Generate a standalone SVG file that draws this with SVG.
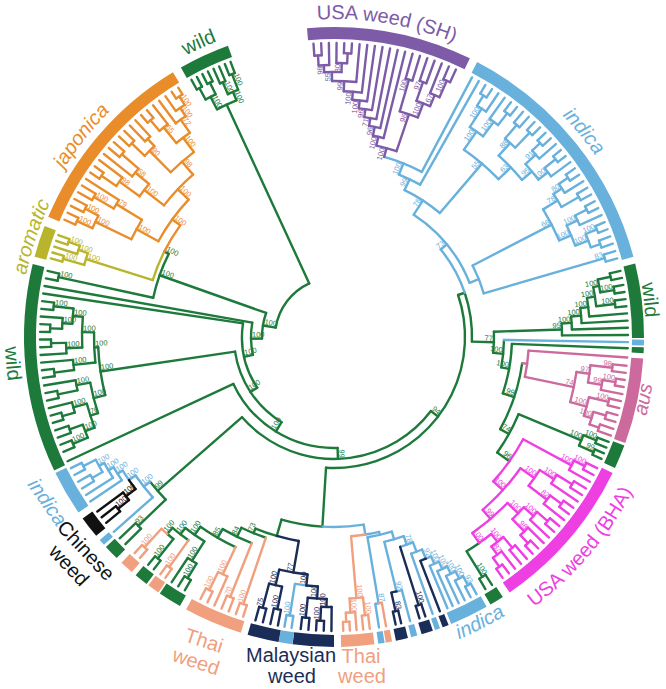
<svg xmlns="http://www.w3.org/2000/svg" width="666" height="689" viewBox="0 0 666 689">
<style>
#connectors path,#connectors circle{fill:none;stroke-width:2.4;stroke-linecap:round}
.g{stroke:#1d7a3b}.o{stroke:#e98d2b}.y{stroke:#b8b52c}.p{stroke:#7d5ba6}.b{stroke:#68b1dd}.a{stroke:#cc6a9d}.m{stroke:#ee3fe2}.n{stroke:#1a2d58}.s{stroke:#f0a07e}.k{stroke:#111111}
.bar{fill:none;stroke-width:12}
text{font-family:"Liberation Sans",Arial,sans-serif}
.bs text{font-size:7.5px}
.ae{text-anchor:end}
.fg{fill:#1d7a3b}.fo{fill:#e98d2b}.fy{fill:#b8b52c}.fp{fill:#7d5ba6}.fb{fill:#68b1dd}.fa{fill:#cc6a9d}.fm{fill:#ee3fe2}.fn{fill:#1a2d58}.fs{fill:#f0a07e}.fk{fill:#111111}
.lab{font-size:20px}
.it{font-style:italic}
</style>
<defs>
<path id="cw318" d="M0 318A318 318 0 1 1 0-318A318 318 0 1 1 0 318"/>
<path id="cw314" d="M0 314A314 314 0 1 1 0-314A314 314 0 1 1 0 314"/>
<path id="cw312" d="M0 312A312 312 0 1 1 0-312A312 312 0 1 1 0 312"/>
<path id="ccw336" d="M0-336A336 336 0 1 0 0 336A336 336 0 1 0 0-336"/>
<path id="ccw327" d="M0-327A327 327 0 1 0 0 327A327 327 0 1 0 0-327"/>
<path id="ccw322" d="M0-322A322 322 0 1 0 0 322A322 322 0 1 0 0-322"/>
<path id="ccw329" d="M0-329A329 329 0 1 0 0 329A329 329 0 1 0 0-329"/>
</defs>
<g transform="translate(334,337)">
<g id="connectors">
<g class="g">
<path d="M0-59V-256" transform="rotate(335.2)"/>
<circle r="59" pathLength="360" stroke-dasharray="56.05 400" transform="rotate(189.15)"/>
<path d="M0-59V-72" transform="rotate(279.15)"/>
<circle r="72" pathLength="360" stroke-dasharray="20.7 400" transform="rotate(178.8)"/>
<path d="M0-72V-185" transform="rotate(289.5)"/>
<path d="M0-72V-83" transform="rotate(268.8)"/>
<circle r="83" pathLength="360" stroke-dasharray="22.45 400" transform="rotate(167.55)"/>
<path d="M0-83V-294" transform="rotate(280)"/>
<path d="M0-83V-92" transform="rotate(257.55)"/>
<circle r="92" pathLength="360" stroke-dasharray="41.9 400" transform="rotate(146.6)"/>
<path d="M0-92V-294" transform="rotate(278.5)"/>
<path d="M0-92V-100" transform="rotate(236.6)"/>
<circle r="100" pathLength="360" stroke-dasharray="50 400" transform="rotate(121.6)"/>
<path d="M0-100V-236" transform="rotate(261.6)"/>
<path d="M0-100V-111" transform="rotate(211.6)"/>
<circle r="111" pathLength="360" stroke-dasharray="66.85 400" transform="rotate(88.15)"/>
<path d="M0-111V-294" transform="rotate(245)"/>
<path d="M0-111V-122" transform="rotate(178.15)"/>
<circle r="122" pathLength="360" stroke-dasharray="101.5 400" transform="rotate(37.4)"/>
<path d="M0-122V-234" transform="rotate(228.9)"/>
<path d="M0-122V-131" transform="rotate(127.4)"/>
<circle r="131" pathLength="360" stroke-dasharray="112.2 400" transform="rotate(-18.7)"/>
<path d="M0-131V-190" transform="rotate(183.5)"/>
<path d="M0-131V-138" transform="rotate(71.3)"/>
<circle r="256" pathLength="360" stroke-dasharray="4.8 400" transform="rotate(242.8)"/>
<path d="M0-256V-270" transform="rotate(332.8)"/>
<path d="M0-256V-265" transform="rotate(337.6)"/>
<circle r="270" pathLength="360" stroke-dasharray="2.4 400" transform="rotate(241.6)"/>
<path d="M0-270V-283" transform="rotate(331.6)"/>
<circle r="283" pathLength="360" stroke-dasharray="1.2 400" transform="rotate(241)"/>
<path d="M0-283V-294" transform="rotate(331)"/>
<path d="M0-283V-294" transform="rotate(332.2)"/>
<path d="M0-270V-283" transform="rotate(334)"/>
<circle r="283" pathLength="360" stroke-dasharray="1.2 400" transform="rotate(243.4)"/>
<path d="M0-283V-294" transform="rotate(333.4)"/>
<path d="M0-283V-294" transform="rotate(334.6)"/>
<circle r="265" pathLength="360" stroke-dasharray="2.4 400" transform="rotate(246.4)"/>
<path d="M0-265V-278" transform="rotate(336.4)"/>
<circle r="278" pathLength="360" stroke-dasharray="1.2 400" transform="rotate(245.8)"/>
<path d="M0-278V-294" transform="rotate(335.8)"/>
<path d="M0-278V-294" transform="rotate(337)"/>
<path d="M0-265V-282" transform="rotate(338.8)"/>
<circle r="282" pathLength="360" stroke-dasharray="1.2 400" transform="rotate(248.2)"/>
<path d="M0-282V-294" transform="rotate(338.2)"/>
<path d="M0-282V-294" transform="rotate(339.4)"/>
<circle r="185" pathLength="360" stroke-dasharray="14.45 400" transform="rotate(192.25)"/>
<path d="M0-185V-282" transform="rotate(282.25)"/>
<circle r="282" pathLength="360" stroke-dasharray="1.5 400" transform="rotate(191.5)"/>
<path d="M0-282V-294" transform="rotate(281.5)"/>
<path d="M0-282V-294" transform="rotate(283)"/>
<path d="M0-185V-190" transform="rotate(296.7)"/>
<circle r="236" pathLength="360" stroke-dasharray="11.75 400" transform="rotate(165.75)"/>
<path d="M0-236V-240" transform="rotate(267.5)"/>
<circle r="240" pathLength="360" stroke-dasharray="7.2 400" transform="rotate(173.9)"/>
<path d="M0-240V-262" transform="rotate(263.9)"/>
<circle r="262" pathLength="360" stroke-dasharray="2.25 400" transform="rotate(172.75)"/>
<path d="M0-262V-282" transform="rotate(262.75)"/>
<circle r="282" pathLength="360" stroke-dasharray="1.5 400" transform="rotate(172)"/>
<path d="M0-282V-294" transform="rotate(262)"/>
<path d="M0-282V-294" transform="rotate(263.5)"/>
<path d="M0-262V-294" transform="rotate(265)"/>
<path d="M0-240V-252" transform="rotate(271.1)"/>
<circle r="252" pathLength="360" stroke-dasharray="7 400" transform="rotate(177.6)"/>
<path d="M0-252V-268" transform="rotate(267.6)"/>
<circle r="268" pathLength="360" stroke-dasharray="2.25 400" transform="rotate(176.5)"/>
<path d="M0-268V-294" transform="rotate(266.5)"/>
<path d="M0-268V-283" transform="rotate(268.75)"/>
<circle r="283" pathLength="360" stroke-dasharray="1.5 400" transform="rotate(178)"/>
<path d="M0-283V-294" transform="rotate(268)"/>
<path d="M0-283V-294" transform="rotate(269.5)"/>
<path d="M0-252V-262" transform="rotate(274.6)"/>
<circle r="262" pathLength="360" stroke-dasharray="3.35 400" transform="rotate(182.9)"/>
<path d="M0-262V-272" transform="rotate(272.9)"/>
<circle r="272" pathLength="360" stroke-dasharray="2.25 400" transform="rotate(181.75)"/>
<path d="M0-272V-284" transform="rotate(271.75)"/>
<circle r="284" pathLength="360" stroke-dasharray="1.5 400" transform="rotate(181)"/>
<path d="M0-284V-294" transform="rotate(271)"/>
<path d="M0-284V-294" transform="rotate(272.5)"/>
<path d="M0-272V-294" transform="rotate(274)"/>
<path d="M0-262V-282" transform="rotate(276.25)"/>
<circle r="282" pathLength="360" stroke-dasharray="1.5 400" transform="rotate(185.5)"/>
<path d="M0-282V-294" transform="rotate(275.5)"/>
<path d="M0-282V-294" transform="rotate(277)"/>
<path d="M0-236V-248" transform="rotate(255.75)"/>
<circle r="248" pathLength="360" stroke-dasharray="7.3 400" transform="rotate(162.1)"/>
<path d="M0-248V-262" transform="rotate(259.4)"/>
<circle r="262" pathLength="360" stroke-dasharray="2.25 400" transform="rotate(168.25)"/>
<path d="M0-262V-282" transform="rotate(258.25)"/>
<circle r="282" pathLength="360" stroke-dasharray="1.5 400" transform="rotate(167.5)"/>
<path d="M0-282V-294" transform="rotate(257.5)"/>
<path d="M0-282V-294" transform="rotate(259)"/>
<path d="M0-262V-294" transform="rotate(260.5)"/>
<path d="M0-248V-256" transform="rotate(252.1)"/>
<circle r="256" pathLength="360" stroke-dasharray="5.65 400" transform="rotate(159.25)"/>
<path d="M0-256V-270" transform="rotate(254.9)"/>
<circle r="270" pathLength="360" stroke-dasharray="2.25 400" transform="rotate(163.75)"/>
<path d="M0-270V-283" transform="rotate(253.75)"/>
<circle r="283" pathLength="360" stroke-dasharray="1.5 400" transform="rotate(163)"/>
<path d="M0-283V-294" transform="rotate(253)"/>
<path d="M0-283V-294" transform="rotate(254.5)"/>
<path d="M0-270V-294" transform="rotate(256)"/>
<path d="M0-256V-266" transform="rotate(249.25)"/>
<circle r="266" pathLength="360" stroke-dasharray="3 400" transform="rotate(157.75)"/>
<path d="M0-266V-282" transform="rotate(247.75)"/>
<circle r="282" pathLength="360" stroke-dasharray="1.5 400" transform="rotate(157)"/>
<path d="M0-282V-294" transform="rotate(247)"/>
<path d="M0-282V-294" transform="rotate(248.5)"/>
<path d="M0-266V-280" transform="rotate(250.75)"/>
<circle r="280" pathLength="360" stroke-dasharray="1.5 400" transform="rotate(160)"/>
<path d="M0-280V-294" transform="rotate(250)"/>
<path d="M0-280V-294" transform="rotate(251.5)"/>
<circle r="234" pathLength="360" stroke-dasharray="5.8 400" transform="rotate(136)"/>
<path d="M0-234V-272" transform="rotate(226)"/>
<circle r="272" pathLength="360" stroke-dasharray="1.6 400" transform="rotate(135.2)"/>
<path d="M0-272V-294" transform="rotate(225.2)"/>
<path d="M0-272V-294" transform="rotate(226.8)"/>
<circle r="190" pathLength="360" stroke-dasharray="12.55 400" transform="rotate(93.5)"/>
<path d="M0-190V-207" transform="rotate(196.05)"/>
<circle r="207" pathLength="360" stroke-dasharray="6.25 400" transform="rotate(106.05)"/>
<path d="M0-207V-212" transform="rotate(202.3)"/>
<circle r="212" pathLength="360" stroke-dasharray="7.15 400" transform="rotate(108.75)"/>
<path d="M0-212V-222" transform="rotate(205.9)"/>
<circle r="222" pathLength="360" stroke-dasharray="8.35 400" transform="rotate(111.75)"/>
<path d="M0-222V-232" transform="rotate(210.1)"/>
<circle r="232" pathLength="360" stroke-dasharray="10.05 400" transform="rotate(115.1)"/>
<path d="M0-232V-242" transform="rotate(215.15)"/>
<circle r="242" pathLength="360" stroke-dasharray="5.5 400" transform="rotate(122.4)"/>
<path d="M0-242V-265" transform="rotate(212.4)"/>
<circle r="265" pathLength="360" stroke-dasharray="2.25 400" transform="rotate(121.25)"/>
<path d="M0-265V-294" transform="rotate(213.5)"/>
<path d="M0-265V-282" transform="rotate(211.25)"/>
<circle r="282" pathLength="360" stroke-dasharray="1.5 400" transform="rotate(120.5)"/>
<path d="M0-282V-294" transform="rotate(210.5)"/>
<path d="M0-282V-294" transform="rotate(212)"/>
<path d="M0-242V-250" transform="rotate(217.9)"/>
<circle r="250" pathLength="360" stroke-dasharray="4.65 400" transform="rotate(125.6)"/>
<path d="M0-250V-258" transform="rotate(220.25)"/>
<circle r="258" pathLength="360" stroke-dasharray="1.75 400" transform="rotate(128.5)"/>
<path d="M0-258V-283" transform="rotate(218.5)"/>
<circle r="283" pathLength="360" stroke-dasharray="1.4 400" transform="rotate(127.8)"/>
<path d="M0-283V-294" transform="rotate(217.8)"/>
<path d="M0-283V-294" transform="rotate(219.2)"/>
<circle r="138" pathLength="360" stroke-dasharray="20.6 400" transform="rotate(-18.7)"/>
<path d="M0-138V-160" transform="rotate(91.9)"/>
<circle r="160" pathLength="360" stroke-dasharray="7.6 400" transform="rotate(-1.9)"/>
<path d="M0-160V-228" transform="rotate(88.1)"/>
<path d="M0-160V-170" transform="rotate(95.7)"/>
<circle r="228" pathLength="360" stroke-dasharray="3 400" transform="rotate(-3.4)"/>
<path d="M0-228V-294" transform="rotate(89.6)"/>
<path d="M0-228V-238" transform="rotate(86.6)"/>
<circle r="238" pathLength="360" stroke-dasharray="3.15 400" transform="rotate(-4.95)"/>
<path d="M0-238V-294" transform="rotate(88.2)"/>
<path d="M0-238V-248" transform="rotate(85.05)"/>
<circle r="248" pathLength="360" stroke-dasharray="3.5 400" transform="rotate(-6.7)"/>
<path d="M0-248V-294" transform="rotate(86.8)"/>
<path d="M0-248V-256" transform="rotate(83.3)"/>
<circle r="256" pathLength="360" stroke-dasharray="4.2 400" transform="rotate(-8.8)"/>
<path d="M0-256V-294" transform="rotate(85.4)"/>
<path d="M0-256V-264" transform="rotate(81.2)"/>
<circle r="264" pathLength="360" stroke-dasharray="4.2 400" transform="rotate(-10.9)"/>
<path d="M0-264V-283" transform="rotate(83.3)"/>
<circle r="283" pathLength="360" stroke-dasharray="1.4 400" transform="rotate(-7.4)"/>
<path d="M0-283V-294" transform="rotate(82.6)"/>
<path d="M0-283V-294" transform="rotate(84)"/>
<path d="M0-264V-270" transform="rotate(79.1)"/>
<circle r="270" pathLength="360" stroke-dasharray="2.8 400" transform="rotate(-12.3)"/>
<path d="M0-270V-284" transform="rotate(80.5)"/>
<circle r="284" pathLength="360" stroke-dasharray="1.4 400" transform="rotate(-10.2)"/>
<path d="M0-284V-294" transform="rotate(79.8)"/>
<path d="M0-284V-294" transform="rotate(81.2)"/>
<path d="M0-270V-283" transform="rotate(77.7)"/>
<circle r="283" pathLength="360" stroke-dasharray="1.4 400" transform="rotate(-13)"/>
<path d="M0-283V-294" transform="rotate(77)"/>
<path d="M0-283V-294" transform="rotate(78.4)"/>
<circle r="170" pathLength="360" stroke-dasharray="9.3 400" transform="rotate(1)"/>
<path d="M0-170V-178" transform="rotate(100.3)"/>
<circle r="178" pathLength="360" stroke-dasharray="16.25 400" transform="rotate(2.2)"/>
<path d="M0-178V-294" transform="rotate(92.2)"/>
<path d="M0-178V-190" transform="rotate(108.45)"/>
<circle r="190" pathLength="360" stroke-dasharray="21.1 400" transform="rotate(7.9)"/>
<path d="M0-190V-200" transform="rotate(119)"/>
<circle r="200" pathLength="360" stroke-dasharray="12.6 400" transform="rotate(22.7)"/>
<path d="M0-200V-268" transform="rotate(112.7)"/>
<circle r="268" pathLength="360" stroke-dasharray="2.4 400" transform="rotate(21.5)"/>
<path d="M0-268V-282" transform="rotate(111.5)"/>
<circle r="282" pathLength="360" stroke-dasharray="1.2 400" transform="rotate(20.9)"/>
<path d="M0-282V-294" transform="rotate(110.9)"/>
<path d="M0-282V-294" transform="rotate(112.1)"/>
<path d="M0-268V-284" transform="rotate(113.9)"/>
<circle r="284" pathLength="360" stroke-dasharray="1.2 400" transform="rotate(23.3)"/>
<path d="M0-284V-294" transform="rotate(113.3)"/>
<path d="M0-284V-294" transform="rotate(114.5)"/>
<path d="M0-200V-215" transform="rotate(125.3)"/>
<circle r="252" pathLength="360" stroke-dasharray="3.45 400" transform="rotate(54.8)"/>
<path d="M0-252V-282" transform="rotate(148.25)"/>
<circle r="282" pathLength="360" stroke-dasharray="1.5 400" transform="rotate(57.5)"/>
<path d="M0-282V-294" transform="rotate(147.5)"/>
<path d="M0-282V-294" transform="rotate(149)"/>
</g>
<g class="y">
<circle r="190" pathLength="360" stroke-dasharray="9.25 400" transform="rotate(197.45)"/>
<path d="M0-190V-260" transform="rotate(287.45)"/>
<circle r="260" pathLength="360" stroke-dasharray="2.7 400" transform="rotate(196.1)"/>
<path d="M0-260V-282" transform="rotate(286.1)"/>
<circle r="282" pathLength="360" stroke-dasharray="1.2 400" transform="rotate(195.5)"/>
<path d="M0-282V-294" transform="rotate(285.5)"/>
<path d="M0-282V-294" transform="rotate(286.7)"/>
<path d="M0-260V-270" transform="rotate(288.8)"/>
<circle r="270" pathLength="360" stroke-dasharray="1.8 400" transform="rotate(197.9)"/>
<path d="M0-270V-294" transform="rotate(287.9)"/>
<path d="M0-270V-282" transform="rotate(289.7)"/>
<circle r="282" pathLength="360" stroke-dasharray="1.2 400" transform="rotate(199.1)"/>
<path d="M0-282V-294" transform="rotate(289.1)"/>
<path d="M0-282V-294" transform="rotate(290.3)"/>
</g>
<g class="o">
<circle r="190" pathLength="360" stroke-dasharray="9.3 400" transform="rotate(206.7)"/>
<path d="M0-190V-200" transform="rotate(306)"/>
<circle r="200" pathLength="360" stroke-dasharray="14.8 400" transform="rotate(208.6)"/>
<path d="M0-200V-225" transform="rotate(298.6)"/>
<path d="M0-200V-215" transform="rotate(313.4)"/>
<circle r="225" pathLength="360" stroke-dasharray="5.65 400" transform="rotate(205.75)"/>
<path d="M0-225V-265" transform="rotate(295.75)"/>
<circle r="265" pathLength="360" stroke-dasharray="3 400" transform="rotate(204.25)"/>
<path d="M0-265V-282" transform="rotate(294.25)"/>
<circle r="282" pathLength="360" stroke-dasharray="1.5 400" transform="rotate(203.5)"/>
<path d="M0-282V-294" transform="rotate(293.5)"/>
<path d="M0-282V-294" transform="rotate(295)"/>
<path d="M0-265V-280" transform="rotate(297.25)"/>
<circle r="280" pathLength="360" stroke-dasharray="1.5 400" transform="rotate(206.5)"/>
<path d="M0-280V-294" transform="rotate(296.5)"/>
<path d="M0-280V-294" transform="rotate(298)"/>
<path d="M0-225V-255" transform="rotate(301.4)"/>
<circle r="255" pathLength="360" stroke-dasharray="2.25 400" transform="rotate(210.25)"/>
<path d="M0-255V-278" transform="rotate(300.25)"/>
<circle r="278" pathLength="360" stroke-dasharray="1.5 400" transform="rotate(209.5)"/>
<path d="M0-278V-294" transform="rotate(299.5)"/>
<path d="M0-278V-294" transform="rotate(301)"/>
<path d="M0-255V-294" transform="rotate(302.5)"/>
<circle r="215" pathLength="360" stroke-dasharray="11.3 400" transform="rotate(217.75)"/>
<path d="M0-215V-240" transform="rotate(307.75)"/>
<circle r="240" pathLength="360" stroke-dasharray="3.7 400" transform="rotate(215.9)"/>
<path d="M0-240V-265" transform="rotate(305.9)"/>
<circle r="265" pathLength="360" stroke-dasharray="2.25 400" transform="rotate(214.75)"/>
<path d="M0-265V-283" transform="rotate(304.75)"/>
<circle r="283" pathLength="360" stroke-dasharray="1.5 400" transform="rotate(214)"/>
<path d="M0-283V-294" transform="rotate(304)"/>
<path d="M0-283V-294" transform="rotate(305.5)"/>
<path d="M0-265V-294" transform="rotate(307)"/>
<path d="M0-240V-258" transform="rotate(309.6)"/>
<circle r="258" pathLength="360" stroke-dasharray="2.25 400" transform="rotate(218.5)"/>
<path d="M0-258V-294" transform="rotate(308.5)"/>
<path d="M0-258V-280" transform="rotate(310.75)"/>
<circle r="280" pathLength="360" stroke-dasharray="1.5 400" transform="rotate(220)"/>
<path d="M0-280V-294" transform="rotate(310)"/>
<path d="M0-280V-294" transform="rotate(311.5)"/>
<path d="M0-215V-232" transform="rotate(319.05)"/>
<circle r="232" pathLength="360" stroke-dasharray="7.6 400" transform="rotate(225.25)"/>
<path d="M0-232V-262" transform="rotate(315.25)"/>
<circle r="262" pathLength="360" stroke-dasharray="3 400" transform="rotate(223.75)"/>
<path d="M0-262V-280" transform="rotate(313.75)"/>
<circle r="280" pathLength="360" stroke-dasharray="1.5 400" transform="rotate(223)"/>
<path d="M0-280V-294" transform="rotate(313)"/>
<path d="M0-280V-294" transform="rotate(314.5)"/>
<path d="M0-262V-272" transform="rotate(316.75)"/>
<circle r="272" pathLength="360" stroke-dasharray="1.5 400" transform="rotate(226)"/>
<path d="M0-272V-294" transform="rotate(316)"/>
<path d="M0-272V-294" transform="rotate(317.5)"/>
<path d="M0-232V-250" transform="rotate(322.85)"/>
<circle r="250" pathLength="360" stroke-dasharray="3.9 400" transform="rotate(230.9)"/>
<path d="M0-250V-270" transform="rotate(320.9)"/>
<circle r="270" pathLength="360" stroke-dasharray="2.25 400" transform="rotate(229.75)"/>
<path d="M0-270V-284" transform="rotate(319.75)"/>
<circle r="284" pathLength="360" stroke-dasharray="1.5 400" transform="rotate(229)"/>
<path d="M0-284V-294" transform="rotate(319)"/>
<path d="M0-284V-294" transform="rotate(320.5)"/>
<path d="M0-270V-294" transform="rotate(322)"/>
<path d="M0-250V-266" transform="rotate(324.8)"/>
<circle r="266" pathLength="360" stroke-dasharray="2.6 400" transform="rotate(233.5)"/>
<path d="M0-266V-294" transform="rotate(323.5)"/>
<path d="M0-266V-276" transform="rotate(326.1)"/>
<circle r="276" pathLength="360" stroke-dasharray="2.25 400" transform="rotate(235)"/>
<path d="M0-276V-294" transform="rotate(325)"/>
<path d="M0-276V-286" transform="rotate(327.25)"/>
<circle r="286" pathLength="360" stroke-dasharray="1.5 400" transform="rotate(236.5)"/>
<path d="M0-286V-294" transform="rotate(326.5)"/>
<path d="M0-286V-294" transform="rotate(328)"/>
</g>
<g class="b">
<path d="M0-234V-242" transform="rotate(231.8)"/>
<circle r="242" pathLength="360" stroke-dasharray="6.6 400" transform="rotate(138.5)"/>
<path d="M0-242V-294" transform="rotate(228.5)"/>
<path d="M0-242V-250" transform="rotate(235.1)"/>
<circle r="250" pathLength="360" stroke-dasharray="2.6 400" transform="rotate(145.1)"/>
<path d="M0-250V-256" transform="rotate(237.7)"/>
<circle r="256" pathLength="360" stroke-dasharray="3.4 400" transform="rotate(146)"/>
<path d="M0-256V-294" transform="rotate(236)"/>
<path d="M0-256V-262" transform="rotate(239.4)"/>
<circle r="262" pathLength="360" stroke-dasharray="3.75 400" transform="rotate(147.5)"/>
<path d="M0-262V-294" transform="rotate(237.5)"/>
<path d="M0-262V-268" transform="rotate(241.25)"/>
<circle r="268" pathLength="360" stroke-dasharray="3 400" transform="rotate(149.75)"/>
<path d="M0-268V-280" transform="rotate(239.75)"/>
<circle r="280" pathLength="360" stroke-dasharray="1.5 400" transform="rotate(149)"/>
<path d="M0-280V-294" transform="rotate(239)"/>
<path d="M0-280V-294" transform="rotate(240.5)"/>
<path d="M0-268V-282" transform="rotate(242.75)"/>
<circle r="282" pathLength="360" stroke-dasharray="1.5 400" transform="rotate(152)"/>
<path d="M0-282V-294" transform="rotate(242)"/>
<path d="M0-282V-294" transform="rotate(243.5)"/>
<circle r="250" pathLength="360" stroke-dasharray="2.65 400" transform="rotate(96.35)"/>
<path d="M0-250V-282" transform="rotate(189)"/>
<circle r="282" pathLength="360" stroke-dasharray="1.4 400" transform="rotate(98.3)"/>
<path d="M0-282V-294" transform="rotate(188.3)"/>
<path d="M0-282V-294" transform="rotate(189.7)"/>
<circle r="190" pathLength="360" stroke-dasharray="12.5 400" transform="rotate(81)"/>
<path d="M0-190V-200" transform="rotate(171)"/>
<circle r="200" pathLength="360" stroke-dasharray="4.03 400" transform="rotate(76.97)"/>
<path d="M0-200V-203" transform="rotate(166.97)"/>
<circle r="203" pathLength="360" stroke-dasharray="7.05 400" transform="rotate(73.45)"/>
<path d="M0-203V-270" transform="rotate(170.5)"/>
<circle r="270" pathLength="360" stroke-dasharray="0.7 400" transform="rotate(80.5)"/>
<path d="M0-270V-294" transform="rotate(171.2)"/>
<path d="M0-203V-211" transform="rotate(163.45)"/>
<circle r="211" pathLength="360" stroke-dasharray="5.5 400" transform="rotate(70.7)"/>
<path d="M0-211V-262" transform="rotate(166.2)"/>
<circle r="262" pathLength="360" stroke-dasharray="1.2 400" transform="rotate(75)"/>
<path d="M0-262V-294" transform="rotate(165)"/>
<path d="M0-211V-220" transform="rotate(160.7)"/>
<circle r="220" pathLength="360" stroke-dasharray="3.53 400" transform="rotate(68.97)"/>
<path d="M0-220V-230" transform="rotate(158.97)"/>
<circle r="230" pathLength="360" stroke-dasharray="2.9 400" transform="rotate(67.5)"/>
<path d="M0-230V-294" transform="rotate(160.4)"/>
<path d="M0-230V-240" transform="rotate(157.5)"/>
<circle r="240" pathLength="360" stroke-dasharray="1.36 400" transform="rotate(66.14)"/>
<path d="M0-240V-248" transform="rotate(156.14)"/>
<circle r="248" pathLength="360" stroke-dasharray="2.32 400" transform="rotate(64.98)"/>
<path d="M0-248V-294" transform="rotate(157.3)"/>
<path d="M0-248V-256" transform="rotate(154.98)"/>
<circle r="256" pathLength="360" stroke-dasharray="2.45 400" transform="rotate(63.75)"/>
<path d="M0-256V-294" transform="rotate(156.2)"/>
<path d="M0-256V-264" transform="rotate(153.75)"/>
<circle r="264" pathLength="360" stroke-dasharray="2.3 400" transform="rotate(62.6)"/>
<path d="M0-264V-294" transform="rotate(154.9)"/>
<path d="M0-264V-272" transform="rotate(152.6)"/>
<circle r="272" pathLength="360" stroke-dasharray="1.95 400" transform="rotate(61.65)"/>
<path d="M0-272V-294" transform="rotate(153.6)"/>
<path d="M0-272V-282" transform="rotate(151.65)"/>
<circle r="282" pathLength="360" stroke-dasharray="1.3 400" transform="rotate(61)"/>
<path d="M0-282V-294" transform="rotate(151)"/>
<path d="M0-282V-294" transform="rotate(152.3)"/>
<path d="M0-170V-294" transform="rotate(91)"/>
<circle r="138" pathLength="360" stroke-dasharray="20.65 400" transform="rotate(-39.35)"/>
<path d="M0-138V-146" transform="rotate(50.65)"/>
<circle r="146" pathLength="360" stroke-dasharray="35.1 400" transform="rotate(-56.9)"/>
<path d="M0-146V-163" transform="rotate(33.1)"/>
<path d="M0-146V-156" transform="rotate(68.2)"/>
<circle r="156" pathLength="360" stroke-dasharray="11.05 400" transform="rotate(-27.3)"/>
<path d="M0-156V-282" transform="rotate(73.75)"/>
<circle r="282" pathLength="360" stroke-dasharray="1.5 400" transform="rotate(-17)"/>
<path d="M0-282V-294" transform="rotate(73)"/>
<path d="M0-282V-294" transform="rotate(74.5)"/>
<path d="M0-156V-245" transform="rotate(62.7)"/>
<circle r="245" pathLength="360" stroke-dasharray="8.2 400" transform="rotate(-31.4)"/>
<path d="M0-245V-262" transform="rotate(58.6)"/>
<circle r="262" pathLength="360" stroke-dasharray="3.35 400" transform="rotate(-33.1)"/>
<path d="M0-262V-272" transform="rotate(56.9)"/>
<circle r="272" pathLength="360" stroke-dasharray="2.25 400" transform="rotate(-34.25)"/>
<path d="M0-272V-283" transform="rotate(55.75)"/>
<circle r="283" pathLength="360" stroke-dasharray="1.5 400" transform="rotate(-35)"/>
<path d="M0-283V-294" transform="rotate(55)"/>
<path d="M0-283V-294" transform="rotate(56.5)"/>
<path d="M0-272V-294" transform="rotate(58)"/>
<path d="M0-262V-282" transform="rotate(60.25)"/>
<circle r="282" pathLength="360" stroke-dasharray="1.5 400" transform="rotate(-30.5)"/>
<path d="M0-282V-294" transform="rotate(59.5)"/>
<path d="M0-282V-294" transform="rotate(61)"/>
<path d="M0-245V-258" transform="rotate(66.8)"/>
<circle r="258" pathLength="360" stroke-dasharray="4.85 400" transform="rotate(-25.6)"/>
<path d="M0-258V-270" transform="rotate(64.4)"/>
<circle r="270" pathLength="360" stroke-dasharray="2.25 400" transform="rotate(-26.75)"/>
<path d="M0-270V-283" transform="rotate(63.25)"/>
<circle r="283" pathLength="360" stroke-dasharray="1.5 400" transform="rotate(-27.5)"/>
<path d="M0-283V-294" transform="rotate(62.5)"/>
<path d="M0-283V-294" transform="rotate(64)"/>
<path d="M0-270V-294" transform="rotate(65.5)"/>
<path d="M0-258V-272" transform="rotate(69.25)"/>
<circle r="272" pathLength="360" stroke-dasharray="3 400" transform="rotate(-22.25)"/>
<path d="M0-272V-284" transform="rotate(67.75)"/>
<circle r="284" pathLength="360" stroke-dasharray="1.5 400" transform="rotate(-23)"/>
<path d="M0-284V-294" transform="rotate(67)"/>
<path d="M0-284V-294" transform="rotate(68.5)"/>
<path d="M0-272V-282" transform="rotate(70.75)"/>
<circle r="282" pathLength="360" stroke-dasharray="1.5 400" transform="rotate(-20)"/>
<path d="M0-282V-294" transform="rotate(70)"/>
<path d="M0-282V-294" transform="rotate(71.5)"/>
<circle r="163" pathLength="360" stroke-dasharray="14.85 400" transform="rotate(-64.35)"/>
<path d="M0-163V-228" transform="rotate(40.5)"/>
<circle r="228" pathLength="360" stroke-dasharray="11.45 400" transform="rotate(-55.25)"/>
<path d="M0-228V-250" transform="rotate(34.75)"/>
<circle r="250" pathLength="360" stroke-dasharray="3.7 400" transform="rotate(-57.1)"/>
<path d="M0-250V-272" transform="rotate(32.9)"/>
<circle r="272" pathLength="360" stroke-dasharray="2.25 400" transform="rotate(-58.25)"/>
<path d="M0-272V-284" transform="rotate(31.75)"/>
<circle r="284" pathLength="360" stroke-dasharray="1.5 400" transform="rotate(-59)"/>
<path d="M0-284V-294" transform="rotate(31)"/>
<path d="M0-284V-294" transform="rotate(32.5)"/>
<path d="M0-272V-294" transform="rotate(34)"/>
<path d="M0-250V-268" transform="rotate(36.6)"/>
<circle r="268" pathLength="360" stroke-dasharray="2.25 400" transform="rotate(-54.5)"/>
<path d="M0-268V-294" transform="rotate(35.5)"/>
<path d="M0-268V-283" transform="rotate(37.75)"/>
<circle r="283" pathLength="360" stroke-dasharray="1.5 400" transform="rotate(-53)"/>
<path d="M0-283V-294" transform="rotate(37)"/>
<path d="M0-283V-294" transform="rotate(38.5)"/>
<path d="M0-228V-245" transform="rotate(46.2)"/>
<circle r="245" pathLength="360" stroke-dasharray="7.85 400" transform="rotate(-47.75)"/>
<path d="M0-245V-262" transform="rotate(42.25)"/>
<circle r="262" pathLength="360" stroke-dasharray="3 400" transform="rotate(-49.25)"/>
<path d="M0-262V-280" transform="rotate(40.75)"/>
<circle r="280" pathLength="360" stroke-dasharray="1.5 400" transform="rotate(-50)"/>
<path d="M0-280V-294" transform="rotate(40)"/>
<path d="M0-280V-294" transform="rotate(41.5)"/>
<path d="M0-262V-283" transform="rotate(43.75)"/>
<circle r="283" pathLength="360" stroke-dasharray="1.5 400" transform="rotate(-47)"/>
<path d="M0-283V-294" transform="rotate(43)"/>
<path d="M0-283V-294" transform="rotate(44.5)"/>
<path d="M0-245V-258" transform="rotate(50.1)"/>
<circle r="258" pathLength="360" stroke-dasharray="4.5 400" transform="rotate(-42.1)"/>
<path d="M0-258V-272" transform="rotate(47.9)"/>
<circle r="272" pathLength="360" stroke-dasharray="2.25 400" transform="rotate(-43.25)"/>
<path d="M0-272V-283" transform="rotate(46.75)"/>
<circle r="283" pathLength="360" stroke-dasharray="1.5 400" transform="rotate(-44)"/>
<path d="M0-283V-294" transform="rotate(46)"/>
<path d="M0-283V-294" transform="rotate(47.5)"/>
<path d="M0-272V-294" transform="rotate(49)"/>
<path d="M0-258V-270" transform="rotate(52.4)"/>
<circle r="270" pathLength="360" stroke-dasharray="2.25 400" transform="rotate(-38.75)"/>
<path d="M0-270V-284" transform="rotate(51.25)"/>
<circle r="284" pathLength="360" stroke-dasharray="1.5 400" transform="rotate(-39.5)"/>
<path d="M0-284V-294" transform="rotate(50.5)"/>
<path d="M0-284V-294" transform="rotate(52)"/>
<path d="M0-270V-294" transform="rotate(53.5)"/>
<path d="M0-163V-175" transform="rotate(25.65)"/>
<circle r="175" pathLength="360" stroke-dasharray="7.7 400" transform="rotate(-68.2)"/>
<path d="M0-175V-294" transform="rotate(29.5)"/>
<path d="M0-175V-187" transform="rotate(21.8)"/>
<circle r="187" pathLength="360" stroke-dasharray="12.45 400" transform="rotate(-74.45)"/>
<path d="M0-187V-294" transform="rotate(28)"/>
</g>
<g class="k">
<circle r="250" pathLength="360" stroke-dasharray="2.55 400" transform="rotate(142.55)"/>
<path d="M0-250V-262" transform="rotate(232.55)"/>
<circle r="262" pathLength="360" stroke-dasharray="2.1 400" transform="rotate(141.5)"/>
<path d="M0-262V-276" transform="rotate(231.5)"/>
<circle r="276" pathLength="360" stroke-dasharray="1.4 400" transform="rotate(140.8)"/>
<path d="M0-276V-294" transform="rotate(230.8)"/>
<path d="M0-276V-294" transform="rotate(232.2)"/>
<path d="M0-262V-294" transform="rotate(233.6)"/>
</g>
<g class="s">
<path d="M0-212V-282" transform="rotate(198.75)"/>
<circle r="282" pathLength="360" stroke-dasharray="1.5 400" transform="rotate(108)"/>
<path d="M0-282V-294" transform="rotate(198)"/>
<path d="M0-282V-294" transform="rotate(199.5)"/>
<path d="M0-222V-280" transform="rotate(201.75)"/>
<circle r="280" pathLength="360" stroke-dasharray="1.5 400" transform="rotate(111)"/>
<path d="M0-280V-294" transform="rotate(201)"/>
<path d="M0-280V-294" transform="rotate(202.5)"/>
<path d="M0-232V-262" transform="rotate(205.1)"/>
<circle r="262" pathLength="360" stroke-dasharray="2.25 400" transform="rotate(114)"/>
<path d="M0-262V-294" transform="rotate(204)"/>
<path d="M0-262V-282" transform="rotate(206.25)"/>
<circle r="282" pathLength="360" stroke-dasharray="1.5 400" transform="rotate(115.5)"/>
<path d="M0-282V-294" transform="rotate(205.5)"/>
<path d="M0-282V-294" transform="rotate(207)"/>
<path d="M0-250V-283" transform="rotate(215.6)"/>
<circle r="283" pathLength="360" stroke-dasharray="1.2 400" transform="rotate(125)"/>
<path d="M0-283V-294" transform="rotate(215)"/>
<path d="M0-283V-294" transform="rotate(216.2)"/>
<circle r="258" pathLength="360" stroke-dasharray="1.75 400" transform="rotate(130.25)"/>
<path d="M0-258V-283" transform="rotate(222)"/>
<circle r="283" pathLength="360" stroke-dasharray="1.4 400" transform="rotate(131.3)"/>
<path d="M0-283V-294" transform="rotate(221.3)"/>
<path d="M0-283V-294" transform="rotate(222.7)"/>
<circle r="200" pathLength="360" stroke-dasharray="4.1 400" transform="rotate(81)"/>
<path d="M0-200V-262" transform="rotate(175.1)"/>
<circle r="262" pathLength="360" stroke-dasharray="2.95 400" transform="rotate(83.65)"/>
<path d="M0-262V-276" transform="rotate(176.6)"/>
<circle r="276" pathLength="360" stroke-dasharray="1.95 400" transform="rotate(85.6)"/>
<path d="M0-276V-294" transform="rotate(175.6)"/>
<path d="M0-276V-285" transform="rotate(177.55)"/>
<circle r="285" pathLength="360" stroke-dasharray="1.3 400" transform="rotate(86.9)"/>
<path d="M0-285V-294" transform="rotate(176.9)"/>
<path d="M0-285V-294" transform="rotate(178.2)"/>
<path d="M0-262V-280" transform="rotate(173.65)"/>
<circle r="280" pathLength="360" stroke-dasharray="1.3 400" transform="rotate(83)"/>
<path d="M0-280V-294" transform="rotate(173)"/>
<path d="M0-280V-294" transform="rotate(174.3)"/>
<circle r="270" pathLength="360" stroke-dasharray="0.7 400" transform="rotate(79.8)"/>
<path d="M0-270V-294" transform="rotate(169.8)"/>
</g>
<g class="n">
<circle r="207" pathLength="360" stroke-dasharray="6.25 400" transform="rotate(99.8)"/>
<path d="M0-207V-239" transform="rotate(189.8)"/>
<circle r="239" pathLength="360" stroke-dasharray="6.9 400" transform="rotate(96.35)"/>
<path d="M0-239V-255" transform="rotate(193.25)"/>
<circle r="255" pathLength="360" stroke-dasharray="3 400" transform="rotate(101.75)"/>
<path d="M0-255V-278" transform="rotate(191.75)"/>
<circle r="278" pathLength="360" stroke-dasharray="1.5 400" transform="rotate(101)"/>
<path d="M0-278V-294" transform="rotate(191)"/>
<path d="M0-278V-294" transform="rotate(192.5)"/>
<path d="M0-255V-280" transform="rotate(194.75)"/>
<circle r="280" pathLength="360" stroke-dasharray="1.5 400" transform="rotate(104)"/>
<path d="M0-280V-294" transform="rotate(194)"/>
<path d="M0-280V-294" transform="rotate(195.5)"/>
<path d="M0-239V-250" transform="rotate(186.35)"/>
<circle r="250" pathLength="360" stroke-dasharray="2.65 400" transform="rotate(93.7)"/>
<path d="M0-250V-262" transform="rotate(183.7)"/>
<circle r="262" pathLength="360" stroke-dasharray="4.15 400" transform="rotate(91.6)"/>
<path d="M0-262V-282" transform="rotate(185.75)"/>
<circle r="282" pathLength="360" stroke-dasharray="1.5 400" transform="rotate(95)"/>
<path d="M0-282V-294" transform="rotate(185)"/>
<path d="M0-282V-294" transform="rotate(186.5)"/>
<path d="M0-262V-270" transform="rotate(181.6)"/>
<circle r="270" pathLength="360" stroke-dasharray="2.25 400" transform="rotate(90.5)"/>
<path d="M0-270V-294" transform="rotate(180.5)"/>
<path d="M0-270V-284" transform="rotate(182.75)"/>
<circle r="284" pathLength="360" stroke-dasharray="1.5 400" transform="rotate(92)"/>
<path d="M0-284V-294" transform="rotate(182)"/>
<path d="M0-284V-294" transform="rotate(183.5)"/>
<circle r="262" pathLength="360" stroke-dasharray="1.15 400" transform="rotate(76.2)"/>
<path d="M0-262V-281" transform="rotate(167.35)"/>
<circle r="281" pathLength="360" stroke-dasharray="1.1 400" transform="rotate(76.8)"/>
<path d="M0-281V-294" transform="rotate(166.8)"/>
<path d="M0-281V-294" transform="rotate(167.9)"/>
<path d="M0-220V-281" transform="rotate(162.5)"/>
<circle r="281" pathLength="360" stroke-dasharray="1.2 400" transform="rotate(71.9)"/>
<path d="M0-281V-294" transform="rotate(161.9)"/>
<path d="M0-281V-294" transform="rotate(163.1)"/>
<circle r="240" pathLength="360" stroke-dasharray="1.4 400" transform="rotate(67.5)"/>
<path d="M0-240V-294" transform="rotate(158.9)"/>
</g>
<g class="a">
<path d="M0-190V-195" transform="rotate(97.9)"/>
<circle r="195" pathLength="360" stroke-dasharray="7.8 400" transform="rotate(4)"/>
<path d="M0-195V-294" transform="rotate(94)"/>
<path d="M0-195V-245" transform="rotate(101.8)"/>
<circle r="245" pathLength="360" stroke-dasharray="7.2 400" transform="rotate(8.2)"/>
<path d="M0-245V-258" transform="rotate(98.2)"/>
<circle r="258" pathLength="360" stroke-dasharray="3.85 400" transform="rotate(6.3)"/>
<path d="M0-258V-280" transform="rotate(96.3)"/>
<circle r="280" pathLength="360" stroke-dasharray="1.4 400" transform="rotate(5.6)"/>
<path d="M0-280V-294" transform="rotate(95.6)"/>
<path d="M0-280V-294" transform="rotate(97)"/>
<path d="M0-258V-272" transform="rotate(100.15)"/>
<circle r="272" pathLength="360" stroke-dasharray="2.1 400" transform="rotate(9.1)"/>
<path d="M0-272V-294" transform="rotate(101.2)"/>
<path d="M0-272V-285" transform="rotate(99.1)"/>
<circle r="285" pathLength="360" stroke-dasharray="1.4 400" transform="rotate(8.4)"/>
<path d="M0-285V-294" transform="rotate(98.4)"/>
<path d="M0-285V-294" transform="rotate(99.8)"/>
<path d="M0-245V-262" transform="rotate(105.4)"/>
<circle r="262" pathLength="360" stroke-dasharray="4.2 400" transform="rotate(13.3)"/>
<path d="M0-262V-282" transform="rotate(103.3)"/>
<circle r="282" pathLength="360" stroke-dasharray="1.4 400" transform="rotate(12.6)"/>
<path d="M0-282V-294" transform="rotate(102.6)"/>
<path d="M0-282V-294" transform="rotate(104)"/>
<path d="M0-262V-270" transform="rotate(107.5)"/>
<circle r="270" pathLength="360" stroke-dasharray="2.8 400" transform="rotate(16.1)"/>
<path d="M0-270V-283" transform="rotate(106.1)"/>
<circle r="283" pathLength="360" stroke-dasharray="1.4 400" transform="rotate(15.4)"/>
<path d="M0-283V-294" transform="rotate(105.4)"/>
<path d="M0-283V-294" transform="rotate(106.8)"/>
<path d="M0-270V-280" transform="rotate(108.9)"/>
<circle r="280" pathLength="360" stroke-dasharray="1.4 400" transform="rotate(18.2)"/>
<path d="M0-280V-294" transform="rotate(108.2)"/>
<path d="M0-280V-294" transform="rotate(109.6)"/>
</g>
<g class="m">
<circle r="215" pathLength="360" stroke-dasharray="13.8 400" transform="rotate(28.4)"/>
<path d="M0-215V-270" transform="rotate(118.4)"/>
<circle r="270" pathLength="360" stroke-dasharray="2.25 400" transform="rotate(27.25)"/>
<path d="M0-270V-294" transform="rotate(119.5)"/>
<path d="M0-270V-282" transform="rotate(117.25)"/>
<circle r="282" pathLength="360" stroke-dasharray="1.5 400" transform="rotate(26.5)"/>
<path d="M0-282V-294" transform="rotate(116.5)"/>
<path d="M0-282V-294" transform="rotate(118)"/>
<path d="M0-215V-228" transform="rotate(132.2)"/>
<circle r="228" pathLength="360" stroke-dasharray="14.15 400" transform="rotate(35.15)"/>
<path d="M0-228V-245" transform="rotate(125.15)"/>
<circle r="245" pathLength="360" stroke-dasharray="4.5 400" transform="rotate(32.9)"/>
<path d="M0-245V-262" transform="rotate(122.9)"/>
<circle r="262" pathLength="360" stroke-dasharray="2.25 400" transform="rotate(31.75)"/>
<path d="M0-262V-294" transform="rotate(124)"/>
<path d="M0-262V-280" transform="rotate(121.75)"/>
<circle r="280" pathLength="360" stroke-dasharray="1.5 400" transform="rotate(31)"/>
<path d="M0-280V-294" transform="rotate(121)"/>
<path d="M0-280V-294" transform="rotate(122.5)"/>
<path d="M0-245V-268" transform="rotate(127.4)"/>
<circle r="268" pathLength="360" stroke-dasharray="2.25 400" transform="rotate(36.25)"/>
<path d="M0-268V-294" transform="rotate(128.5)"/>
<path d="M0-268V-282" transform="rotate(126.25)"/>
<circle r="282" pathLength="360" stroke-dasharray="1.5 400" transform="rotate(35.5)"/>
<path d="M0-282V-294" transform="rotate(125.5)"/>
<path d="M0-282V-294" transform="rotate(127)"/>
<path d="M0-228V-240" transform="rotate(139.3)"/>
<circle r="240" pathLength="360" stroke-dasharray="11.05 400" transform="rotate(43.75)"/>
<path d="M0-240V-255" transform="rotate(133.75)"/>
<circle r="255" pathLength="360" stroke-dasharray="3.7 400" transform="rotate(41.9)"/>
<path d="M0-255V-268" transform="rotate(131.9)"/>
<circle r="268" pathLength="360" stroke-dasharray="2.25 400" transform="rotate(40.75)"/>
<path d="M0-268V-294" transform="rotate(133)"/>
<path d="M0-268V-282" transform="rotate(130.75)"/>
<circle r="282" pathLength="360" stroke-dasharray="1.5 400" transform="rotate(40)"/>
<path d="M0-282V-294" transform="rotate(130)"/>
<path d="M0-282V-294" transform="rotate(131.5)"/>
<path d="M0-255V-272" transform="rotate(135.6)"/>
<circle r="272" pathLength="360" stroke-dasharray="2.25 400" transform="rotate(44.5)"/>
<path d="M0-272V-294" transform="rotate(134.5)"/>
<path d="M0-272V-283" transform="rotate(136.75)"/>
<circle r="283" pathLength="360" stroke-dasharray="1.5 400" transform="rotate(46)"/>
<path d="M0-283V-294" transform="rotate(136)"/>
<path d="M0-283V-294" transform="rotate(137.5)"/>
<path d="M0-240V-252" transform="rotate(144.8)"/>
<circle r="252" pathLength="360" stroke-dasharray="3.4 400" transform="rotate(51.4)"/>
<path d="M0-252V-262" transform="rotate(141.4)"/>
<circle r="262" pathLength="360" stroke-dasharray="3.35 400" transform="rotate(49.75)"/>
<path d="M0-262V-276" transform="rotate(139.75)"/>
<circle r="276" pathLength="360" stroke-dasharray="1.5 400" transform="rotate(49)"/>
<path d="M0-276V-294" transform="rotate(139)"/>
<path d="M0-276V-294" transform="rotate(140.5)"/>
<path d="M0-262V-272" transform="rotate(143.1)"/>
<circle r="272" pathLength="360" stroke-dasharray="2.25 400" transform="rotate(52)"/>
<path d="M0-272V-294" transform="rotate(142)"/>
<path d="M0-272V-283" transform="rotate(144.25)"/>
<circle r="283" pathLength="360" stroke-dasharray="1.5 400" transform="rotate(53.5)"/>
<path d="M0-283V-294" transform="rotate(143.5)"/>
<path d="M0-283V-294" transform="rotate(145)"/>
</g>
<g class="p">
<path d="M0-187V-196" transform="rotate(15.55)"/>
<circle r="196" pathLength="360" stroke-dasharray="6.12 400" transform="rotate(-77.52)"/>
<path d="M0-196V-205" transform="rotate(12.48)"/>
<path d="M0-196V-235" transform="rotate(18.6)"/>
<circle r="205" pathLength="360" stroke-dasharray="3.04 400" transform="rotate(-79.04)"/>
<path d="M0-205V-294" transform="rotate(14)"/>
<path d="M0-205V-214" transform="rotate(10.96)"/>
<circle r="214" pathLength="360" stroke-dasharray="3.07 400" transform="rotate(-80.57)"/>
<path d="M0-214V-294" transform="rotate(12.5)"/>
<path d="M0-214V-222" transform="rotate(9.43)"/>
<circle r="222" pathLength="360" stroke-dasharray="3.15 400" transform="rotate(-82.15)"/>
<path d="M0-222V-294" transform="rotate(11)"/>
<path d="M0-222V-230" transform="rotate(7.85)"/>
<circle r="230" pathLength="360" stroke-dasharray="3.3 400" transform="rotate(-83.8)"/>
<path d="M0-230V-294" transform="rotate(9.5)"/>
<path d="M0-230V-238" transform="rotate(6.2)"/>
<circle r="238" pathLength="360" stroke-dasharray="3.61 400" transform="rotate(-85.61)"/>
<path d="M0-238V-294" transform="rotate(8)"/>
<path d="M0-238V-246" transform="rotate(4.39)"/>
<circle r="246" pathLength="360" stroke-dasharray="4.22 400" transform="rotate(-87.72)"/>
<path d="M0-246V-294" transform="rotate(6.5)"/>
<path d="M0-246V-256" transform="rotate(2.28)"/>
<circle r="256" pathLength="360" stroke-dasharray="5.44 400" transform="rotate(-90.44)"/>
<path d="M0-256V-294" transform="rotate(5)"/>
<path d="M0-256V-265" transform="rotate(-0.44)"/>
<circle r="265" pathLength="360" stroke-dasharray="3.75 400" transform="rotate(-92.125)"/>
<path d="M0-265V-274" transform="rotate(1.625)"/>
<circle r="274" pathLength="360" stroke-dasharray="2.25 400" transform="rotate(-89.5)"/>
<path d="M0-274V-294" transform="rotate(0.5)"/>
<path d="M0-274V-284" transform="rotate(2.75)"/>
<circle r="284" pathLength="360" stroke-dasharray="1.5 400" transform="rotate(-88)"/>
<path d="M0-284V-294" transform="rotate(2)"/>
<path d="M0-284V-294" transform="rotate(3.5)"/>
<path d="M0-265V-272" transform="rotate(-2.125)"/>
<circle r="272" pathLength="360" stroke-dasharray="2.25 400" transform="rotate(-93.25)"/>
<path d="M0-272V-294" transform="rotate(-1)"/>
<path d="M0-272V-282" transform="rotate(-3.25)"/>
<circle r="282" pathLength="360" stroke-dasharray="1.5 400" transform="rotate(-94)"/>
<path d="M0-282V-294" transform="rotate(-4)"/>
<path d="M0-282V-294" transform="rotate(-2.5)"/>
<circle r="235" pathLength="360" stroke-dasharray="4.65 400" transform="rotate(-73.75)"/>
<path d="M0-235V-268" transform="rotate(16.25)"/>
<circle r="268" pathLength="360" stroke-dasharray="1.5 400" transform="rotate(-74.5)"/>
<path d="M0-268V-294" transform="rotate(15.5)"/>
<path d="M0-268V-294" transform="rotate(17)"/>
<path d="M0-235V-250" transform="rotate(20.9)"/>
<circle r="250" pathLength="360" stroke-dasharray="3.35 400" transform="rotate(-70.75)"/>
<path d="M0-250V-270" transform="rotate(19.25)"/>
<circle r="270" pathLength="360" stroke-dasharray="1.5 400" transform="rotate(-71.5)"/>
<path d="M0-270V-294" transform="rotate(18.5)"/>
<path d="M0-270V-294" transform="rotate(20)"/>
<path d="M0-250V-262" transform="rotate(22.6)"/>
<circle r="262" pathLength="360" stroke-dasharray="2.25 400" transform="rotate(-68.5)"/>
<path d="M0-262V-294" transform="rotate(21.5)"/>
<path d="M0-262V-280" transform="rotate(23.75)"/>
<circle r="280" pathLength="360" stroke-dasharray="1.5 400" transform="rotate(-67)"/>
<path d="M0-280V-294" transform="rotate(23)"/>
<path d="M0-280V-294" transform="rotate(24.5)"/>
</g>
</g>

<g id="bootstrap" class="bs">
<g class="fg ae">
<text transform="rotate(178.15)translate(0,-122)rotate(-90)" x="-1" y="-1.5">99</text>
<text transform="rotate(127.4)translate(0,-131)rotate(-90)" x="-1" y="-1.5">94</text>
<text transform="rotate(91.9)translate(0,-160)rotate(-90)" x="-1" y="-1.5">77</text>
<text transform="rotate(95.7)translate(0,-170)rotate(-90)" x="-1" y="-1.5">100</text>
<text transform="rotate(100.3)translate(0,-178)rotate(-90)" x="-1" y="-1.5">100</text>
<text transform="rotate(108.45)translate(0,-190)rotate(-90)" x="-1" y="-1.5">99</text>
<text transform="rotate(119)translate(0,-200)rotate(-90)" x="-1" y="-1.5">74</text>
<text transform="rotate(125.3)translate(0,-215)rotate(-90)" x="-1" y="-1.5">96</text>
<text transform="rotate(112.7)translate(0,-268)rotate(-90)" x="-1" y="-1.5">100</text>
<text transform="rotate(111.5)translate(0,-282)rotate(-90)" x="-1" y="-1.5">100</text>
<text transform="rotate(113.9)translate(0,-284)rotate(-90)" x="-1" y="-1.5">99</text>
<text transform="rotate(88.1)translate(0,-228)rotate(-90)" x="-1" y="-1.5">95</text>
<text transform="rotate(86.6)translate(0,-238)rotate(-90)" x="-1" y="-1.5">100</text>
<text transform="rotate(85.05)translate(0,-248)rotate(-90)" x="-1" y="-1.5">100</text>
<text transform="rotate(83.3)translate(0,-256)rotate(-90)" x="-1" y="-1.5">100</text>
<text transform="rotate(81.2)translate(0,-264)rotate(-90)" x="-1" y="-1.5">100</text>
<text transform="rotate(79.1)translate(0,-270)rotate(-90)" x="-1" y="-1.5">100</text>
<text transform="rotate(83.3)translate(0,-283)rotate(-90)" x="-1" y="-1.5">100</text>
<text transform="rotate(80.5)translate(0,-284)rotate(-90)" x="-1" y="-1.5">100</text>
<text transform="rotate(148.25)translate(0,-282)rotate(-90)" x="-1" y="-1.5">100</text>
</g>
<g class="fg">
<text transform="rotate(279.15)translate(0,-72)rotate(90)" x="1" y="-1.5">100</text>
<text transform="rotate(268.8)translate(0,-83)rotate(90)" x="1" y="-1.5">100</text>
<text transform="rotate(257.55)translate(0,-92)rotate(90)" x="1" y="-1.5">100</text>
<text transform="rotate(236.6)translate(0,-100)rotate(90)" x="1" y="-1.5">100</text>
<text transform="rotate(211.6)translate(0,-111)rotate(90)" x="1" y="-1.5">100</text>
<text transform="rotate(289.5)translate(0,-185)rotate(90)" x="1" y="-1.5">100</text>
<text transform="rotate(296.7)translate(0,-190)rotate(90)" x="1" y="-1.5">100</text>
<text transform="rotate(261.6)translate(0,-236)rotate(90)" x="1" y="-1.5">100</text>
<text transform="rotate(228.9)translate(0,-234)rotate(90)" x="1" y="-1.5">99</text>
<text transform="rotate(226)translate(0,-272)rotate(90)" x="1" y="-1.5">93</text>
<text transform="rotate(202.3)translate(0,-212)rotate(90)" x="1" y="-1.5">73</text>
<text transform="rotate(205.9)translate(0,-222)rotate(90)" x="1" y="-1.5">84</text>
<text transform="rotate(210.1)translate(0,-232)rotate(90)" x="1" y="-1.5">85</text>
<text transform="rotate(215.15)translate(0,-242)rotate(90)" x="1" y="-1.5">100</text>
<text transform="rotate(217.9)translate(0,-250)rotate(90)" x="1" y="-1.5">100</text>
<text transform="rotate(220.25)translate(0,-258)rotate(90)" x="1" y="-1.5">100</text>
<text transform="rotate(212.4)translate(0,-265)rotate(90)" x="1" y="-1.5">100</text>
<text transform="rotate(211.25)translate(0,-282)rotate(90)" x="1" y="-1.5">100</text>
<text transform="rotate(218.5)translate(0,-283)rotate(90)" x="1" y="-1.5">100</text>
<text transform="rotate(282.25)translate(0,-282)rotate(90)" x="1" y="-1.5">100</text>
<text transform="rotate(332.8)translate(0,-270)rotate(90)" x="1" y="-1.5">100</text>
<text transform="rotate(336.4)translate(0,-278)rotate(90)" x="1" y="-1.5">100</text>
<text transform="rotate(338.8)translate(0,-282)rotate(90)" x="1" y="-1.5">100</text>
<text transform="rotate(337.6)translate(0,-265)rotate(90)" x="1" y="-1.5">100</text>
<text transform="rotate(267.5)translate(0,-240)rotate(90)" x="1" y="-1.5">100</text>
<text transform="rotate(263.9)translate(0,-262)rotate(90)" x="1" y="-1.5">100</text>
<text transform="rotate(271.1)translate(0,-252)rotate(90)" x="1" y="-1.5">100</text>
<text transform="rotate(267.6)translate(0,-268)rotate(90)" x="1" y="-1.5">100</text>
<text transform="rotate(274.6)translate(0,-262)rotate(90)" x="1" y="-1.5">100</text>
<text transform="rotate(272.9)translate(0,-272)rotate(90)" x="1" y="-1.5">100</text>
<text transform="rotate(276.25)translate(0,-282)rotate(90)" x="1" y="-1.5">100</text>
<text transform="rotate(255.75)translate(0,-248)rotate(90)" x="1" y="-1.5">100</text>
<text transform="rotate(259.4)translate(0,-262)rotate(90)" x="1" y="-1.5">100</text>
<text transform="rotate(252.1)translate(0,-256)rotate(90)" x="1" y="-1.5">76</text>
<text transform="rotate(254.9)translate(0,-270)rotate(90)" x="1" y="-1.5">100</text>
<text transform="rotate(249.25)translate(0,-266)rotate(90)" x="1" y="-1.5">100</text>
<text transform="rotate(247.75)translate(0,-282)rotate(90)" x="1" y="-1.5">100</text>
</g>
<g class="fo">
<text transform="rotate(306)translate(0,-200)rotate(90)" x="1" y="-1.5">100</text>
<text transform="rotate(298.6)translate(0,-225)rotate(90)" x="1" y="-1.5">100</text>
<text transform="rotate(295.75)translate(0,-265)rotate(90)" x="1" y="-1.5">100</text>
<text transform="rotate(294.25)translate(0,-282)rotate(90)" x="1" y="-1.5">100</text>
<text transform="rotate(297.25)translate(0,-280)rotate(90)" x="1" y="-1.5">100</text>
<text transform="rotate(301.4)translate(0,-255)rotate(90)" x="1" y="-1.5">79</text>
<text transform="rotate(300.25)translate(0,-278)rotate(90)" x="1" y="-1.5">100</text>
<text transform="rotate(313.4)translate(0,-215)rotate(90)" x="1" y="-1.5">100</text>
<text transform="rotate(307.75)translate(0,-240)rotate(90)" x="1" y="-1.5">100</text>
<text transform="rotate(305.9)translate(0,-265)rotate(90)" x="1" y="-1.5">98</text>
<text transform="rotate(309.6)translate(0,-258)rotate(90)" x="1" y="-1.5">58</text>
<text transform="rotate(319.05)translate(0,-232)rotate(90)" x="1" y="-1.5">98</text>
<text transform="rotate(315.25)translate(0,-262)rotate(90)" x="1" y="-1.5">90</text>
<text transform="rotate(322.85)translate(0,-250)rotate(90)" x="1" y="-1.5">100</text>
<text transform="rotate(320.9)translate(0,-270)rotate(90)" x="1" y="-1.5">65</text>
<text transform="rotate(324.8)translate(0,-266)rotate(90)" x="1" y="-1.5">72</text>
<text transform="rotate(326.1)translate(0,-276)rotate(90)" x="1" y="-1.5">100</text>
<text transform="rotate(327.25)translate(0,-286)rotate(90)" x="1" y="-1.5">100</text>
</g>
<g class="fy">
<text transform="rotate(287.45)translate(0,-260)rotate(90)" x="1" y="-1.5">100</text>
<text transform="rotate(286.1)translate(0,-282)rotate(90)" x="1" y="-1.5">100</text>
<text transform="rotate(288.8)translate(0,-270)rotate(90)" x="1" y="-1.5">100</text>
<text transform="rotate(289.7)translate(0,-282)rotate(90)" x="1" y="-1.5">100</text>
</g>
<g class="fb ae">
<text transform="rotate(50.65)translate(0,-146)rotate(-90)" x="-1" y="-1.5">73</text>
<text transform="rotate(73.75)translate(0,-282)rotate(-90)" x="-1" y="-1.5">83</text>
<text transform="rotate(62.7)translate(0,-245)rotate(-90)" x="-1" y="-1.5">66</text>
<text transform="rotate(58.6)translate(0,-262)rotate(-90)" x="-1" y="-1.5">78</text>
<text transform="rotate(56.9)translate(0,-272)rotate(-90)" x="-1" y="-1.5">80</text>
<text transform="rotate(66.8)translate(0,-258)rotate(-90)" x="-1" y="-1.5">100</text>
<text transform="rotate(64.4)translate(0,-270)rotate(-90)" x="-1" y="-1.5">100</text>
<text transform="rotate(69.25)translate(0,-272)rotate(-90)" x="-1" y="-1.5">100</text>
<text transform="rotate(67.75)translate(0,-284)rotate(-90)" x="-1" y="-1.5">100</text>
<text transform="rotate(33.1)translate(0,-163)rotate(-90)" x="-1" y="-1.5">76</text>
<text transform="rotate(40.5)translate(0,-228)rotate(-90)" x="-1" y="-1.5">55</text>
<text transform="rotate(46.2)translate(0,-245)rotate(-90)" x="-1" y="-1.5">63</text>
<text transform="rotate(42.25)translate(0,-262)rotate(-90)" x="-1" y="-1.5">88</text>
<text transform="rotate(50.1)translate(0,-258)rotate(-90)" x="-1" y="-1.5">95</text>
<text transform="rotate(47.9)translate(0,-272)rotate(-90)" x="-1" y="-1.5">91</text>
<text transform="rotate(52.4)translate(0,-270)rotate(-90)" x="-1" y="-1.5">100</text>
<text transform="rotate(34.75)translate(0,-250)rotate(-90)" x="-1" y="-1.5">100</text>
<text transform="rotate(32.9)translate(0,-272)rotate(-90)" x="-1" y="-1.5">100</text>
<text transform="rotate(36.6)translate(0,-268)rotate(-90)" x="-1" y="-1.5">100</text>
<text transform="rotate(25.65)translate(0,-175)rotate(-90)" x="-1" y="-1.5">99</text>
<text transform="rotate(21.8)translate(0,-187)rotate(-90)" x="-1" y="-1.5">100</text>
<text transform="rotate(170.5)translate(0,-270)rotate(-90)" x="-1" y="-1.5">87</text>
<text transform="rotate(166.2)translate(0,-262)rotate(-90)" x="-1" y="-1.5">92</text>
<text transform="rotate(160.7)translate(0,-220)rotate(-90)" x="-1" y="-1.5">78</text>
<text transform="rotate(157.5)translate(0,-240)rotate(-90)" x="-1" y="-1.5">92</text>
<text transform="rotate(156.14)translate(0,-248)rotate(-90)" x="-1" y="-1.5">100</text>
<text transform="rotate(154.98)translate(0,-256)rotate(-90)" x="-1" y="-1.5">100</text>
<text transform="rotate(153.75)translate(0,-264)rotate(-90)" x="-1" y="-1.5">100</text>
<text transform="rotate(152.6)translate(0,-272)rotate(-90)" x="-1" y="-1.5">100</text>
<text transform="rotate(151.65)translate(0,-282)rotate(-90)" x="-1" y="-1.5">93</text>
</g>
<g class="fb">
<text transform="rotate(189)translate(0,-282)rotate(90)" x="1" y="-1.5">100</text>
<text transform="rotate(231.8)translate(0,-242)rotate(90)" x="1" y="-1.5">100</text>
<text transform="rotate(235.1)translate(0,-250)rotate(90)" x="1" y="-1.5">100</text>
<text transform="rotate(237.7)translate(0,-256)rotate(90)" x="1" y="-1.5">100</text>
<text transform="rotate(239.4)translate(0,-262)rotate(90)" x="1" y="-1.5">100</text>
<text transform="rotate(241.25)translate(0,-268)rotate(90)" x="1" y="-1.5">100</text>
</g>
<g class="fn ae">
<text transform="rotate(167.35)translate(0,-281)rotate(-90)" x="-1" y="-1.5">83</text>
<text transform="rotate(162.5)translate(0,-281)rotate(-90)" x="-1" y="-1.5">100</text>
</g>
<g class="fn">
<text transform="rotate(189.8)translate(0,-239)rotate(90)" x="1" y="-1.5">77</text>
<text transform="rotate(193.25)translate(0,-255)rotate(90)" x="1" y="-1.5">100</text>
<text transform="rotate(194.75)translate(0,-280)rotate(90)" x="1" y="-1.5">75</text>
<text transform="rotate(191.75)translate(0,-278)rotate(90)" x="1" y="-1.5">100</text>
<text transform="rotate(186.35)translate(0,-250)rotate(90)" x="1" y="-1.5">100</text>
<text transform="rotate(183.7)translate(0,-262)rotate(90)" x="1" y="-1.5">100</text>
<text transform="rotate(185.75)translate(0,-282)rotate(90)" x="1" y="-1.5">100</text>
<text transform="rotate(181.6)translate(0,-270)rotate(90)" x="1" y="-1.5">100</text>
<text transform="rotate(182.75)translate(0,-284)rotate(90)" x="1" y="-1.5">100</text>
</g>
<g class="fs ae">
<text transform="rotate(175.1)translate(0,-262)rotate(-90)" x="-1" y="-1.5">100</text>
<text transform="rotate(176.6)translate(0,-276)rotate(-90)" x="-1" y="-1.5">100</text>
<text transform="rotate(173.65)translate(0,-280)rotate(-90)" x="-1" y="-1.5">100</text>
</g>
<g class="fs">
<text transform="rotate(198.75)translate(0,-282)rotate(90)" x="1" y="-1.5">100</text>
<text transform="rotate(201.75)translate(0,-280)rotate(90)" x="1" y="-1.5">70</text>
<text transform="rotate(205.1)translate(0,-262)rotate(90)" x="1" y="-1.5">100</text>
<text transform="rotate(206.25)translate(0,-282)rotate(90)" x="1" y="-1.5">100</text>
<text transform="rotate(215.6)translate(0,-283)rotate(90)" x="1" y="-1.5">100</text>
<text transform="rotate(222)translate(0,-283)rotate(90)" x="1" y="-1.5">100</text>
</g>
<g class="fa ae">
<text transform="rotate(101.8)translate(0,-245)rotate(-90)" x="-1" y="-1.5">74</text>
<text transform="rotate(98.2)translate(0,-258)rotate(-90)" x="-1" y="-1.5">97</text>
<text transform="rotate(96.3)translate(0,-280)rotate(-90)" x="-1" y="-1.5">98</text>
<text transform="rotate(100.15)translate(0,-272)rotate(-90)" x="-1" y="-1.5">99</text>
<text transform="rotate(99.1)translate(0,-285)rotate(-90)" x="-1" y="-1.5">100</text>
<text transform="rotate(105.4)translate(0,-262)rotate(-90)" x="-1" y="-1.5">100</text>
<text transform="rotate(107.5)translate(0,-270)rotate(-90)" x="-1" y="-1.5">100</text>
<text transform="rotate(103.3)translate(0,-282)rotate(-90)" x="-1" y="-1.5">100</text>
</g>
<g class="fm ae">
<text transform="rotate(132.2)translate(0,-228)rotate(-90)" x="-1" y="-1.5">100</text>
<text transform="rotate(139.3)translate(0,-240)rotate(-90)" x="-1" y="-1.5">99</text>
<text transform="rotate(144.8)translate(0,-252)rotate(-90)" x="-1" y="-1.5">100</text>
<text transform="rotate(125.15)translate(0,-245)rotate(-90)" x="-1" y="-1.5">100</text>
<text transform="rotate(122.9)translate(0,-262)rotate(-90)" x="-1" y="-1.5">100</text>
<text transform="rotate(127.4)translate(0,-268)rotate(-90)" x="-1" y="-1.5">82</text>
<text transform="rotate(133.75)translate(0,-255)rotate(-90)" x="-1" y="-1.5">100</text>
<text transform="rotate(131.9)translate(0,-268)rotate(-90)" x="-1" y="-1.5">100</text>
<text transform="rotate(135.6)translate(0,-272)rotate(-90)" x="-1" y="-1.5">98</text>
<text transform="rotate(141.4)translate(0,-262)rotate(-90)" x="-1" y="-1.5">100</text>
<text transform="rotate(143.1)translate(0,-272)rotate(-90)" x="-1" y="-1.5">87</text>
<text transform="rotate(118.4)translate(0,-270)rotate(-90)" x="-1" y="-1.5">100</text>
<text transform="rotate(117.25)translate(0,-282)rotate(-90)" x="-1" y="-1.5">100</text>
</g>
<g class="fp ae">
<text transform="rotate(15.55)translate(0,-196)rotate(-90)" x="-1" y="-1.5">100</text>
<text transform="rotate(12.48)translate(0,-205)rotate(-90)" x="-1" y="-1.5">100</text>
<text transform="rotate(10.96)translate(0,-214)rotate(-90)" x="-1" y="-1.5">96</text>
<text transform="rotate(9.43)translate(0,-222)rotate(-90)" x="-1" y="-1.5">71</text>
<text transform="rotate(7.85)translate(0,-230)rotate(-90)" x="-1" y="-1.5">96</text>
<text transform="rotate(6.2)translate(0,-238)rotate(-90)" x="-1" y="-1.5">100</text>
<text transform="rotate(4.39)translate(0,-246)rotate(-90)" x="-1" y="-1.5">100</text>
<text transform="rotate(2.28)translate(0,-256)rotate(-90)" x="-1" y="-1.5">99</text>
<text transform="rotate(-0.44)translate(0,-265)rotate(-90)" x="-1" y="-1.5">55</text>
<text transform="rotate(-2.125)translate(0,-272)rotate(-90)" x="-1" y="-1.5">98</text>
<text transform="rotate(1.625)translate(0,-274)rotate(-90)" x="-1" y="-1.5">80</text>
<text transform="rotate(18.6)translate(0,-235)rotate(-90)" x="-1" y="-1.5">96</text>
<text transform="rotate(16.25)translate(0,-268)rotate(-90)" x="-1" y="-1.5">100</text>
<text transform="rotate(20.9)translate(0,-250)rotate(-90)" x="-1" y="-1.5">100</text>
<text transform="rotate(19.25)translate(0,-270)rotate(-90)" x="-1" y="-1.5">97</text>
<text transform="rotate(22.6)translate(0,-262)rotate(-90)" x="-1" y="-1.5">67</text>
<text transform="rotate(23.75)translate(0,-280)rotate(-90)" x="-1" y="-1.5">100</text>
</g>
<g class="fk">
<text transform="rotate(232.55)translate(0,-262)rotate(90)" x="1" y="-1.5">100</text>
<text transform="rotate(231.5)translate(0,-276)rotate(90)" x="1" y="-1.5">100</text>
</g>
</g>

<g id="sh"><circle class="bar p" r="304" pathLength="360" stroke-dasharray="31 400" transform="rotate(-95)"/>
<text class="lab fp" font-size="21"><textPath href="#cw318" startOffset="1051.8" text-anchor="middle">USA weed (SH)</textPath></text></g>
<g id="indica-top"><circle class="bar b" r="304" pathLength="360" stroke-dasharray="47.5 400" transform="rotate(-62.5)"/>
<text class="lab fb it"><textPath href="#cw318" startOffset="1279.3" text-anchor="middle">indica</textPath></text></g>
<g id="wild-right"><circle class="bar g" r="304" pathLength="360" stroke-dasharray="13.9 400" transform="rotate(-13.7)"/>
<circle class="bar b" r="304" pathLength="360" stroke-dasharray="1.1 400" transform="rotate(0.5)"/>
<circle class="bar g" r="304" pathLength="360" stroke-dasharray="1.1 400" transform="rotate(1.9)"/>
<text class="lab fg"><textPath href="#cw312" startOffset="1433.2" text-anchor="middle">wild</textPath></text></g>
<g id="aus"><circle class="bar a" r="304" pathLength="360" stroke-dasharray="16 400" transform="rotate(4)"/>
<circle class="bar g" r="304" pathLength="360" stroke-dasharray="4.5 400" transform="rotate(20.5)"/>
<text class="lab fa it"><textPath href="#ccw322" startOffset="1452.8" text-anchor="middle">aus</textPath></text></g>
<g id="bha"><circle class="bar m" r="304" pathLength="360" stroke-dasharray="29.5 400" transform="rotate(26)"/>
<circle class="bar g" r="304" pathLength="360" stroke-dasharray="2.7 400" transform="rotate(57)"/>
<text class="lab fm" font-size="19"><textPath href="#ccw336" startOffset="1345.9" text-anchor="middle">USA weed (BHA)</textPath></text></g>
<g id="indica-bottom"><circle class="bar b" r="304" pathLength="360" stroke-dasharray="7.3 400" transform="rotate(60.5)"/>
<circle class="bar n" r="304" pathLength="360" stroke-dasharray="1.2 400" transform="rotate(68.3)"/>
<circle class="bar b" r="304" pathLength="360" stroke-dasharray="1 400" transform="rotate(70)"/>
<circle class="bar n" r="304" pathLength="360" stroke-dasharray="2.2 400" transform="rotate(71.4)"/>
<circle class="bar b" r="304" pathLength="360" stroke-dasharray="1.2 400" transform="rotate(74.4)"/>
<circle class="bar n" r="304" pathLength="360" stroke-dasharray="2.3 400" transform="rotate(76.2)"/>
<circle class="bar s" r="304" pathLength="360" stroke-dasharray="1.2 400" transform="rotate(79.2)"/>
<circle class="bar b" r="304" pathLength="360" stroke-dasharray="1.2 400" transform="rotate(80.6)"/>
<text class="lab fb it" font-size="19"><textPath href="#ccw327" startOffset="1181.4" text-anchor="middle">indica</textPath></text></g>
<g id="thai-right"><circle class="bar s" r="304" pathLength="360" stroke-dasharray="6.2 400" transform="rotate(82.5)"/></g>
<g id="malaysian"><circle class="bar n" r="304" pathLength="360" stroke-dasharray="7.7 400" transform="rotate(90)"/>
<circle class="bar b" r="304" pathLength="360" stroke-dasharray="2.6 400" transform="rotate(97.7)"/>
<circle class="bar n" r="304" pathLength="360" stroke-dasharray="5.9 400" transform="rotate(100.3)"/></g>
<g id="thai-left"><circle class="bar s" r="304" pathLength="360" stroke-dasharray="11 400" transform="rotate(107.5)"/>
<circle class="bar g" r="304" pathLength="360" stroke-dasharray="4.4 400" transform="rotate(119.8)"/>
<circle class="bar s" r="304" pathLength="360" stroke-dasharray="2.3 400" transform="rotate(124.5)"/>
<circle class="bar g" r="304" pathLength="360" stroke-dasharray="2.6 400" transform="rotate(127.2)"/>
<circle class="bar s" r="304" pathLength="360" stroke-dasharray="2.6 400" transform="rotate(130.7)"/>
<circle class="bar g" r="304" pathLength="360" stroke-dasharray="2.9 400" transform="rotate(134.5)"/>
<circle class="bar b" r="304" pathLength="360" stroke-dasharray="1.2 400" transform="rotate(137.9)"/></g>
<g id="chinese"><circle class="bar k" r="304" pathLength="360" stroke-dasharray="4.1 400" transform="rotate(140.1)"/></g>
<g id="indica-left"><circle class="bar b" r="304" pathLength="360" stroke-dasharray="8.5 400" transform="rotate(145.5)"/></g>
<g id="wild-left"><circle class="bar g" r="304" pathLength="360" stroke-dasharray="39.1 400" transform="rotate(154.5)"/>
<text class="lab fg"><textPath href="#ccw329" startOffset="543.8" text-anchor="middle">wild</textPath></text></g>
<g id="aromatic"><circle class="bar y" r="304" pathLength="360" stroke-dasharray="6 400" transform="rotate(195)"/>
<text class="lab fy it" font-size="18"><textPath href="#cw314" startOffset="593.5" text-anchor="middle">aromatic</textPath></text></g>
<g id="japonica"><circle class="bar o" r="304" pathLength="360" stroke-dasharray="35.9 400" transform="rotate(202.8)"/>
<text class="lab fo it"><textPath href="#cw318" startOffset="713.2" text-anchor="middle">japonica</textPath></text></g>
<g id="wild-top"><circle class="bar g" r="304" pathLength="360" stroke-dasharray="9.6 400" transform="rotate(240.4)"/>
<text class="lab fg"><textPath href="#cw318" startOffset="861.9" text-anchor="middle">wild</textPath></text></g>
</g>

<g id="bottom-labels" class="lab" text-anchor="middle" font-size="19">
<g id="thai-right-label" class="fs"><text x="361" y="663">Thai</text><text x="362" y="683">weed</text></g>
<g id="malaysian-label" class="fn"><text x="291" y="662">Malaysian</text><text x="292" y="683">weed</text></g>
<g id="thai-left-label" class="fs"><text transform="translate(202,647)rotate(18)">Thai</text><text transform="translate(194,668)rotate(18)">weed</text></g>
<g id="chinese-label" class="fk"><text transform="translate(81,555)rotate(47)">Chinese</text><text transform="translate(64,570)rotate(47)">weed</text></g>
<g id="indica-left-label" class="fb it"><text transform="translate(42,506)rotate(55)">indica</text></g>
</g>
</svg>
